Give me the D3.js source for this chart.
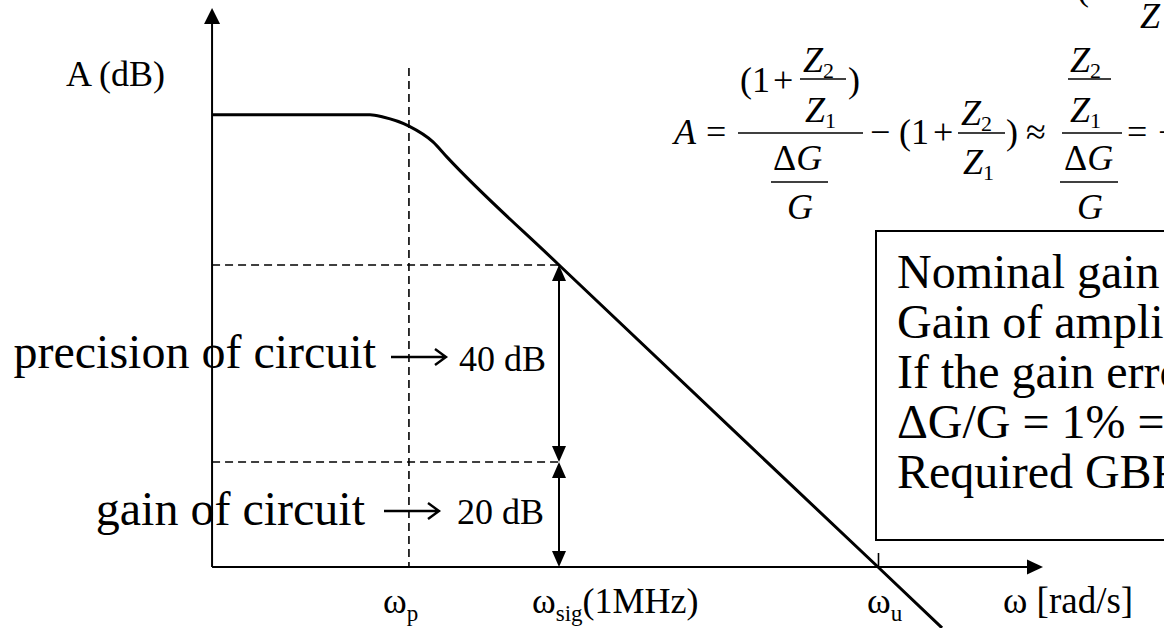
<!DOCTYPE html>
<html><head><meta charset="utf-8">
<script src="https://cdn.jsdelivr.net/npm/d3@7"></script>
<style>
html,body{margin:0;padding:0;background:#fff;overflow:hidden}
svg{display:block;font-family:"Liberation Serif","Times New Roman",serif}
</style></head><body>
<svg id="chart" width="1164" height="628"></svg>
<script>
// Open-loop magnitude response: ω in rad/s, gain in dB
const omega  = [546, 1.67e4, 2.21e4, 3.88e4, 6.53e4, 8.85e4, 1e6, 1e9, 4e9];
const gainDb = [90.5, 90.5, 90.05, 88.2, 85.0, 81.9, 60, 0, -11.6];

// Frequencies marked on the ω axis
const markOmega = [3.88e4, 1e6, 1e9];
const markSub   = ["p", "sig", "u"];
const markAfter = ["", "(1MHz)", ""];

// Gain levels (dB) and the spans between them
const levelDb   = [0, 20, 60];
const spanFrom  = [20, 0];
const spanTo    = [60, 20];
const spanText  = ["40 dB", "20 dB"];
const spanNote  = ["precision of circuit", "gain of circuit"];

const boxLines = ["Nominal gain", "Gain of amplifier", "If the gain error", "\u0394G/G = 1% =", "Required GBP"];

const svg = d3.select("#chart");
const x = d3.scaleLog().domain([1e6, 1e9]).range([559, 878]);
const y = d3.scaleLinear().domain([0, 20, 60]).range([567, 462, 265]);

const x0 = x(omega[0]), y0 = y(0);
const yTop = 8, xEnd = 1043;

function head(g, tx, ty, dx, dy, len, hw) {
  const bx = tx - dx * len, by = ty - dy * len;
  const px = -dy * hw, py = dx * hw;
  g.append("path")
    .attr("d", `M${tx},${ty}L${bx + px},${by + py}L${bx - px},${by - py}Z`)
    .attr("fill", "#000");
}

// Dashed guides
const guides = svg.append("g").attr("stroke", "#000").attr("stroke-width", 1.6)
  .attr("stroke-dasharray", "8,5").attr("fill", "none");
guides.append("line").attr("x1", x(markOmega[0])).attr("x2", x(markOmega[0]))
  .attr("y1", 68).attr("y2", y0);
levelDb.slice(1).forEach(d => {
  guides.append("line").attr("x1", x0).attr("x2", x(markOmega[1]))
    .attr("y1", y(d)).attr("y2", y(d));
});

// Axes
const axes = svg.append("g");
axes.append("line").attr("x1", x0).attr("x2", x0).attr("y1", y0).attr("y2", yTop + 6)
  .attr("stroke", "#000").attr("stroke-width", 2);
head(axes, x0, yTop, 0, -1, 16, 8);
axes.append("line").attr("x1", x0).attr("x2", xEnd - 6).attr("y1", y0).attr("y2", y0)
  .attr("stroke", "#000").attr("stroke-width", 2);
head(axes, xEnd, y0, 1, 0, 16, 7.5);

const tickAxis = svg.append("g").attr("transform", `translate(0,${y0})`)
  .call(d3.axisBottom(x).tickValues([markOmega[2]]).tickSizeInner(-14).tickSizeOuter(0).tickFormat(""));
tickAxis.select(".domain").remove();
tickAxis.selectAll(".tick line").attr("stroke", "#000").attr("stroke-width", 1.6);

// Response curve
const pts = omega.map((w, i) => [w, gainDb[i]]);
svg.append("path").datum(pts)
  .attr("d", d3.line().x(d => x(d[0])).y(d => y(d[1])).curve(d3.curveMonotoneX))
  .attr("fill", "none").attr("stroke", "#000").attr("stroke-width", 3);

// Span arrows with labels
const noteLayout = [
  {textEnd: 376, textY: 368, arrowFrom: 391, arrowTo: 446, arrowY: 357, labelX: 459, labelY: 371},
  {textEnd: 365, textY: 525, arrowFrom: 384, arrowTo: 439, arrowY: 511, labelX: 457, labelY: 524}
];
const spans = svg.append("g");
spanFrom.forEach((f, i) => {
  const xs = x(markOmega[1]);
  const yA = y(f), yB = y(spanTo[i]);
  spans.append("line").attr("x1", xs).attr("x2", xs).attr("y1", yA - 10).attr("y2", yB + 10)
    .attr("stroke", "#000").attr("stroke-width", 2);
  head(spans, xs, yB, 0, -1, 16, 7);
  head(spans, xs, yA, 0, 1, 16, 7);
  const L = noteLayout[i];
  spans.append("text").attr("x", L.labelX).attr("y", L.labelY).attr("font-size", 36).text(spanText[i]);
  spans.append("text").attr("x", L.textEnd).attr("y", L.textY).attr("font-size", 48)
    .attr("text-anchor", "end").text(spanNote[i]);
  const ay = L.arrowY;
  spans.append("path")
    .attr("d", `M${L.arrowFrom},${ay}L${L.arrowTo},${ay}M${L.arrowTo - 11},${ay - 8}L${L.arrowTo},${ay}L${L.arrowTo - 11},${ay + 8}`)
    .attr("fill", "none").attr("stroke", "#000").attr("stroke-width", 2.4);
});

// Axis labels
svg.append("text").attr("x", 66).attr("y", 86).attr("font-size", 36).text("A (dB)");
const markOffset = [-26, -27, -11];
markOmega.forEach((w, i) => {
  const t = svg.append("text").attr("x", x(w) + markOffset[i]).attr("y", 613).attr("font-size", 36);
  t.append("tspan").text("\u03c9");
  t.append("tspan").attr("font-size", 23).attr("dy", 8).text(markSub[i]);
  if (markAfter[i]) t.append("tspan").attr("dy", -8).text(markAfter[i]);
});
svg.append("text").attr("x", 1003).attr("y", 613).attr("font-size", 37).text("\u03c9 [rad/s]");

// Text box
const box = svg.append("g");
box.append("rect").attr("x", 876).attr("y", 231).attr("width", 420).attr("height", 309)
  .attr("fill", "#fff").attr("stroke", "#000").attr("stroke-width", 2);
boxLines.forEach((s, i) => {
  box.append("text").attr("x", 897).attr("y", 288 + i * 50).attr("font-size", 48).text(s);
});

// Formula
const eq = svg.append("g").attr("font-size", 36);
function tx(px, py, s, italic) {
  return eq.append("text").attr("x", px).attr("y", py)
    .attr("font-style", italic ? "italic" : "normal").text(s);
}
function zsub(px, py, n) {
  const t = eq.append("text").attr("x", px).attr("y", py);
  t.append("tspan").attr("font-style", "italic").text("Z");
  t.append("tspan").attr("font-size", 22).attr("dy", 6).text(n);
}
function bar(xa, xb, py) {
  eq.append("line").attr("x1", xa).attr("x2", xb).attr("y1", py).attr("y2", py)
    .attr("stroke", "#000").attr("stroke-width", 1.6);
}
function dg(px, py) {
  const t = eq.append("text").attr("x", px).attr("y", py);
  t.append("tspan").text("\u0394");
  t.append("tspan").attr("font-style", "italic").text("G");
}
tx(674, 144, "A", true);
tx(706, 144, "=");
tx(740, 92, "(1");
tx(773, 92, "+");
zsub(803, 72, "2"); bar(800, 846, 79); zsub(805, 122, "1");
tx(848, 92, ")");
bar(738, 863, 133);
dg(773, 170); bar(771, 828, 182); tx(787, 219, "G", true);
tx(870, 144, "\u2212");
tx(899, 144, "(1");
tx(933, 144, "+");
zsub(961, 125, "2"); bar(958, 1005, 133); zsub(963, 174, "1");
tx(1006, 144, ")");
tx(1026, 144, "\u2248");
zsub(1070, 72, "2"); bar(1068, 1111, 79); zsub(1070, 122, "1");
bar(1062, 1122, 133);
dg(1064, 170); bar(1060, 1118, 182); tx(1077, 219, "G", true);
tx(1127, 144, "=");
tx(1158, 144, "\u2212");
tx(1077, 0, "(");
tx(1140, 28, "Z", true);
</script>
</body></html>
